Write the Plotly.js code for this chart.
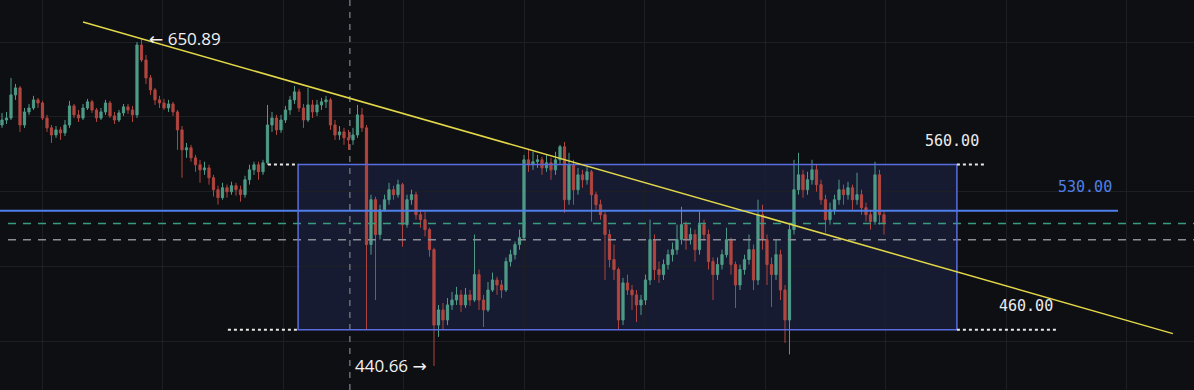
<!DOCTYPE html>
<html><head><meta charset="utf-8">
<script src="https://cdn.plot.ly/plotly-3.0.1.min.js"></script>
<style>html,body{margin:0;padding:0;background:#0e0f12;overflow:hidden}#chart{width:1194px;height:390px}</style>
</head><body><div id="chart"></div>
<script>
// ---- candle data (one bar per period) ----
const openP = [
586.9,590.4,591.8,608.3,613.4,586.9,596.1,598.9,604.7,602.5,
591.8,584.9,580.0,583.5,581.4,586.9,600.4,594.0,591.8,598.9,
603.3,597.5,591.8,596.1,602.5,593.3,590.4,595.4,599.7,597.5,
594.0,645.5,634.1,620.7,611.9,604.7,602.5,598.9,601.8,596.1,
583.5,569.8,571.2,564.4,559.8,556.4,557.7,551.2,543.4,538.3,
544.7,542.1,546.0,543.4,540.2,549.9,556.4,559.8,555.1,561.1,
586.9,591.8,583.5,590.4,597.5,604.7,610.5,598.9,590.4,601.1,
596.1,601.1,603.3,604.7,586.9,580.0,582.1,578.0,576.6,580.0,
594.0,584.9,509.1,537.0,515.2,530.6,537.0,543.4,540.2,546.7,
521.3,537.0,540.2,527.5,524.4,518.2,506.0,462.6,471.0,465.4,
473.8,476.6,479.5,473.8,479.5,476.6,491.2,476.6,471.0,482.3,
488.1,485.2,482.3,498.9,503.0,509.1,513.3,563.1,559.8,561.8,
563.1,557.7,561.1,556.4,563.1,571.9,537.0,559.8,543.4,553.1,
549.9,555.1,540.2,533.8,527.5,515.2,500.1,494.2,465.4,486.4,
482.3,479.5,473.8,476.6,488.1,512.1,494.2,491.2,497.1,503.0,
506.0,512.1,521.3,512.1,515.2,506.0,521.3,515.2,498.9,491.2,
497.1,503.0,512.1,497.1,485.2,494.2,500.1,506.0,488.1,527.5,
512.1,497.1,491.2,503.0,482.3,465.4,518.2,543.4,553.1,543.4,
549.9,556.4,546.7,537.0,524.4,530.6,537.0,543.4,540.2,544.7,
537.0,540.2,531.9,527.5,523.2,553.1,527.5];
const highP = [
595.4,596.1,620.7,616.3,614.8,598.9,601.8,607.6,606.1,604.0,
594.0,586.9,586.2,585.5,590.4,604.0,601.8,597.5,601.8,605.4,
604.7,598.9,598.9,604.7,604.0,596.1,597.5,601.8,601.8,600.4,
647.8,650.89,637.9,622.9,613.4,607.6,605.4,604.7,603.3,597.5,
586.2,574.5,573.2,566.4,563.1,561.8,559.8,553.1,546.0,547.9,
546.7,548.6,547.9,546.0,552.5,559.8,561.8,561.8,563.1,601.1,
596.1,594.0,594.0,600.4,607.6,614.8,612.7,601.8,613.4,604.7,
604.7,606.1,607.6,606.1,590.4,586.2,584.9,583.5,584.9,601.1,
598.9,586.9,540.2,538.9,533.8,540.2,547.9,546.0,549.9,547.9,
540.2,543.4,542.1,530.6,529.4,519.4,507.2,473.8,474.9,477.7,
481.2,484.1,482.3,483.5,482.3,515.2,494.2,479.5,486.9,492.4,
489.9,488.1,501.3,506.0,510.9,518.2,566.4,569.8,568.5,566.4,
565.1,566.4,564.4,568.5,573.2,575.2,567.8,563.1,557.7,556.4,
558.4,556.4,542.1,537.0,530.6,518.2,509.1,495.4,489.3,491.2,
485.2,482.3,479.5,491.2,524.4,515.2,498.9,500.1,506.0,510.3,
521.3,532.5,523.2,519.4,518.2,529.4,524.4,518.2,501.3,501.3,
506.0,519.4,513.3,498.9,497.1,503.0,515.2,509.1,537.0,533.8,
515.2,501.3,512.1,506.0,485.2,521.3,563.1,567.8,556.4,555.1,
563.1,559.8,549.9,540.2,535.1,540.2,549.9,546.7,548.6,546.7,
554.5,543.4,535.1,530.6,561.8,556.4,529.4];
const lowP = [
584.9,587.6,590.4,604.7,582.1,584.9,594.0,597.5,598.9,590.4,
582.1,574.5,578.0,576.6,579.3,584.9,591.8,589.0,590.4,597.5,
595.4,589.0,590.4,594.0,591.8,587.6,589.0,593.3,594.7,589.0,
591.8,632.6,616.3,608.3,601.1,598.9,597.5,596.1,593.3,569.8,
551.2,564.4,561.8,555.1,547.9,553.1,546.7,539.0,533.8,537.0,
538.3,540.2,539.6,535.7,538.3,546.7,553.1,549.9,553.1,559.8,
582.1,580.0,581.4,588.3,594.0,601.8,596.1,584.9,589.0,591.8,
593.3,597.5,598.9,583.5,576.6,576.6,573.2,569.8,573.2,578.0,
582.1,459.9,503.0,476.6,512.1,529.4,533.8,537.0,538.3,507.8,
519.4,533.8,524.4,519.4,514.0,501.8,440.66,456.1,459.9,462.6,
471.0,473.8,469.9,472.1,473.3,475.5,471.0,461.5,469.9,481.2,
479.5,477.7,481.2,496.0,500.1,506.0,512.1,555.1,556.4,557.7,
553.1,555.1,549.9,553.1,559.8,528.7,533.8,533.8,540.2,544.7,
546.7,523.2,530.6,524.4,488.1,495.4,488.1,459.9,462.6,479.5,
471.0,464.3,468.2,473.8,485.2,488.1,486.4,488.1,494.2,498.9,
503.0,509.1,506.0,509.1,498.9,503.0,512.1,494.2,476.6,488.1,
494.2,501.3,491.2,472.1,482.3,491.2,497.1,482.3,485.2,506.0,
485.2,472.7,488.1,476.6,452.9,446.7,515.2,540.2,538.3,540.2,
546.7,542.1,533.8,516.4,521.3,527.5,533.8,533.8,537.0,530.6,
533.8,527.5,523.2,518.2,521.3,521.3,515.2];
const closeP = [
590.4,591.8,608.3,613.4,586.9,596.1,598.9,604.7,602.5,591.8,
584.9,580.0,583.5,581.4,586.9,600.4,594.0,591.8,598.9,603.3,
597.5,591.8,596.1,602.5,593.3,590.4,595.4,599.7,597.5,594.0,
645.5,634.1,620.7,611.9,604.7,602.5,598.9,601.8,596.1,583.5,
569.8,571.2,564.4,559.8,556.4,557.7,551.2,543.4,538.3,544.7,
542.1,546.0,543.4,540.2,549.9,556.4,559.8,555.1,561.1,586.9,
591.8,583.5,590.4,597.5,604.7,610.5,598.9,590.4,601.1,596.1,
601.1,603.3,604.7,586.9,580.0,582.1,578.0,576.6,580.0,594.0,
584.9,509.1,537.0,515.2,530.6,537.0,543.4,540.2,546.7,521.3,
537.0,540.2,527.5,524.4,518.2,506.0,462.6,471.0,465.4,473.8,
476.6,479.5,473.8,479.5,476.6,491.2,476.6,471.0,482.3,488.1,
485.2,482.3,498.9,503.0,509.1,513.3,563.1,559.8,561.8,563.1,
557.7,561.1,556.4,563.1,571.9,537.0,559.8,543.4,553.1,549.9,
555.1,540.2,533.8,527.5,515.2,500.1,494.2,465.4,486.4,482.3,
479.5,473.8,476.6,488.1,512.1,494.2,491.2,497.1,503.0,506.0,
512.1,521.3,512.1,515.2,506.0,521.3,515.2,498.9,491.2,497.1,
503.0,512.1,497.1,485.2,494.2,500.1,506.0,488.1,527.5,512.1,
497.1,491.2,503.0,482.3,465.4,518.2,543.4,553.1,543.4,549.9,
556.4,546.7,537.0,524.4,530.6,537.0,543.4,540.2,544.7,537.0,
540.2,531.9,527.5,523.2,553.1,527.5,521.9];
const barIndex = closeP.map((_, i) => i);

// ---- drawn levels and markers ----
const peakHigh = 650.89;
const troughLow = 440.66;
const boxTop = 560.00;
const boxBottom = 460.00;
const keyLevel = 530.00;
const lastPriceLevel = 522.0;
const prevCloseLevel = 512.0;
const boxSpan = [65.8, 212.2];          // bar index range of the range box
const trendX = [18.0, 260.2];           // trendline anchor bars
const trendY = [663.4, 457.9];          // trendline anchor prices
const cursorBar = 77.3;                 // vertical crosshair
const gridY = [453.4, 495.7, 542.0, 592.6, 647.8];

const GREEN = '#4d9b87', RED = '#b0453f';
const BOX = '#5a6de0', BLUE = '#4f80ea', YELLOW = '#e2d84a';

const trace = {
  type: 'candlestick', x: barIndex, open: openP, high: highP, low: lowP, close: closeP,
  increasing: {line: {color: GREEN, width: 1}, fillcolor: GREEN},
  decreasing: {line: {color: RED, width: 1}, fillcolor: RED},
  whiskerwidth: 0, hoverinfo: 'skip'
};

function hline(y, x0, x1, color, dash, width, layer) {
  return {type: 'line', xref: 'x', yref: 'y', x0: x0, x1: x1, y0: y, y1: y,
          line: {color: color, width: width, dash: dash}, layer: layer || 'above'};
}

const shapes = [
  {type: 'rect', xref: 'x', yref: 'y', x0: boxSpan[0], x1: boxSpan[1], y0: boxBottom, y1: boxTop,
   fillcolor: 'rgba(80,100,230,0.15)', line: {width: 0}, layer: 'below'},
  {type: 'line', xref: 'x', yref: 'paper', x0: cursorBar, x1: cursorBar, y0: 0, y1: 1,
   line: {color: '#6c6f78', width: 1.5, dash: '6px,6px'}, layer: 'above'},
  hline(lastPriceLevel, 1.33, 266, '#3a9a7e', '8px,7px', 1.5),
  hline(prevCloseLevel, 1.33, 266, '#8b8e97', '8px,7px', 1.5),
  hline(keyLevel, -1, 248.0, BLUE, 'solid', 2),
  {type: 'rect', xref: 'x', yref: 'y', x0: boxSpan[0], x1: boxSpan[1], y0: boxBottom, y1: boxTop,
   fillcolor: 'rgba(0,0,0,0)', line: {color: BOX, width: 1.5}, layer: 'above'},
  hline(boxTop, 59.1, boxSpan[0], '#e8e8e8', 'dot', 2),
  hline(boxTop, boxSpan[1], 218.4, '#e8e8e8', 'dot', 2),
  hline(boxBottom, 50.2, boxSpan[0], '#e8e8e8', 'dot', 2),
  hline(boxBottom, boxSpan[1], 234.7, '#e8e8e8', 'dot', 2),
  {type: 'line', xref: 'x', yref: 'y', x0: trendX[0], x1: trendX[1], y0: trendY[0], y1: trendY[1],
   line: {color: YELLOW, width: 1.5}, layer: 'above'}
];

const L = Math.log10;
const sansFont = {family: 'Open Sans, DejaVu Sans, sans-serif', size: 17, color: '#f2f2f2'};
const monoFont = {family: 'DejaVu Sans Mono, Liberation Mono, monospace', size: 15, color: '#ececec'};
const annotations = [
  {x: 32.2, y: L(peakHigh), xref: 'x', yref: 'y', text: '\u2190 ' + peakHigh.toFixed(2),
   showarrow: false, xanchor: 'left', yanchor: 'middle', font: sansFont},
  {x: 78.0, y: L(troughLow), xref: 'x', yref: 'y', text: troughLow.toFixed(2) + ' \u2192',
   showarrow: false, xanchor: 'left', yanchor: 'middle', font: sansFont},
  {x: 204.7, y: L(boxTop), xref: 'x', yref: 'y', yshift: 23, text: boxTop.toFixed(2),
   showarrow: false, xanchor: 'left', yanchor: 'middle', font: monoFont},
  {x: 234.3, y: L(keyLevel), xref: 'x', yref: 'y', yshift: 23.5, text: keyLevel.toFixed(2),
   showarrow: false, xanchor: 'left', yanchor: 'middle', font: Object.assign({}, monoFont, {color: BLUE})},
  {x: 221.1, y: L(boxBottom), xref: 'x', yref: 'y', yshift: 24, text: boxBottom.toFixed(2),
   showarrow: false, xanchor: 'left', yanchor: 'middle', font: monoFont}
];

const layout = {
  width: 1194, height: 390,
  margin: {l: 0, r: 0, t: 0, b: 0, pad: 0},
  paper_bgcolor: '#0e0f12', plot_bgcolor: '#0e0f12',
  showlegend: false, hovermode: false, dragmode: false,
  xaxis: {range: [-0.444, 264.89], showticklabels: false, ticks: '', zeroline: false,
          showgrid: true, gridcolor: '#1d1f23', gridwidth: 1, tick0: 8.89, dtick: 26.78,
          rangeslider: {visible: false}, fixedrange: true},
  yaxis: {type: 'log', range: [L(428.2), L(681.0)], showticklabels: false, ticks: '',
          zeroline: false, showgrid: true, gridcolor: '#1d1f23', gridwidth: 1,
          tickmode: 'array', tickvals: gridY, fixedrange: true},
  shapes: shapes, annotations: annotations
};

Plotly.newPlot('chart', [trace], layout, {staticPlot: true, displayModeBar: false});
</script></body></html>
